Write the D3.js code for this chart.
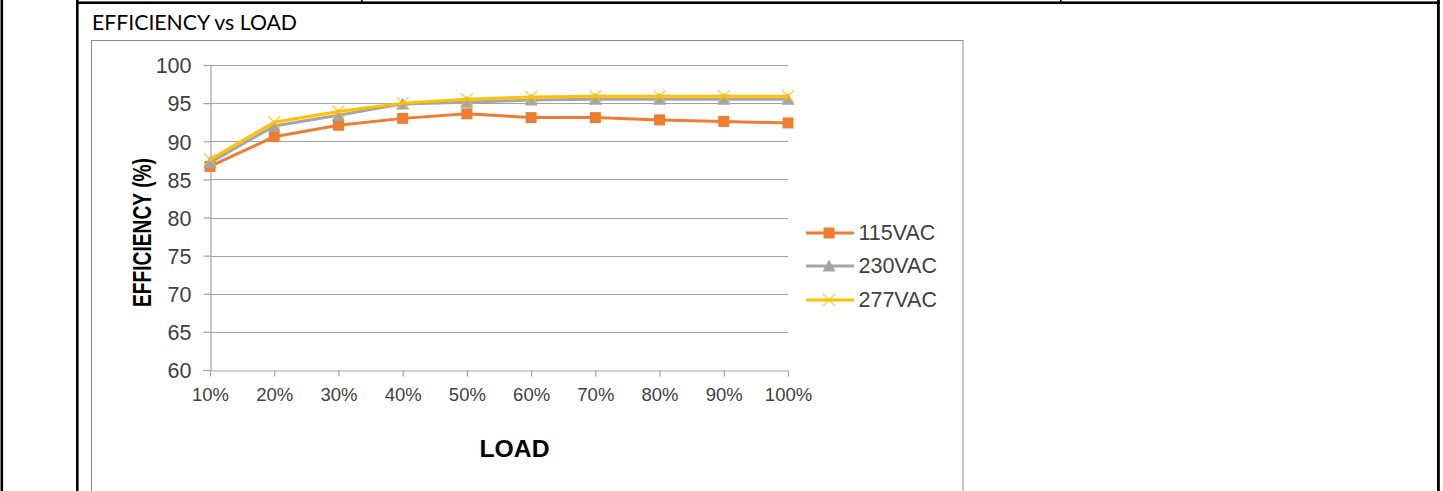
<!DOCTYPE html>
<html>
<head>
<meta charset="utf-8">
<script src="https://cdn.jsdelivr.net/npm/d3@7/dist/d3.min.js"></script>
<style>
  html, body { margin: 0; padding: 0; background: #fff; }
  svg { display: block; }
</style>
</head>
<body>
<svg id="chart" width="1443" height="491"></svg>
<script>
// Load levels along the x axis
const loads = ["10%", "20%", "30%", "40%", "50%", "60%", "70%", "80%", "90%", "100%"];

// Efficiency (%) per input voltage
const eff115 = [86.7, 90.6, 92.1, 93.0, 93.6, 93.1, 93.1, 92.8, 92.6, 92.4];
const eff230 = [87.2, 92.0, 93.4, 94.9, 95.1, 95.4, 95.5, 95.5, 95.5, 95.5];
const eff277 = [87.6, 92.5, 93.9, 95.0, 95.5, 95.8, 95.9, 95.9, 95.9, 95.9];

const seriesNames = ["115VAC", "230VAC", "277VAC"];
const yTicks = [60, 65, 70, 75, 80, 85, 90, 95, 100];

const series = [
  { name: seriesNames[0], values: eff115, color: "#ED7D31", marker: "square" },
  { name: seriesNames[1], values: eff230, color: "#A5A5A5", marker: "triangle" },
  { name: seriesNames[2], values: eff277, color: "#FFC000", marker: "cross" }
];

const svg = d3.select("#chart");
svg.append("rect").attr("width", 1443).attr("height", 491).attr("fill", "#fff");

// Surrounding table cell borders
const border = svg.append("g").attr("fill", "#000");
border.append("rect").attr("x", 0.5).attr("y", 0).attr("width", 2.6).attr("height", 491);
border.append("rect").attr("x", 76).attr("y", 0).attr("width", 2.6).attr("height", 491);
border.append("rect").attr("x", 1437).attr("y", 0).attr("width", 2.8).attr("height", 491);
border.append("rect").attr("x", 76).attr("y", 1.4).attr("width", 1364).attr("height", 2.6);
border.append("rect").attr("x", 361).attr("y", 0).attr("width", 1.6).attr("height", 2);
border.append("rect").attr("x", 1060).attr("y", 0).attr("width", 1.6).attr("height", 2);

// Cell heading
svg.append("text")
  .attr("x", 92).attr("y", 29.5)
  .attr("font-family", "Lato, 'Open Sans', sans-serif")
  .attr("font-size", 21)
  .attr("fill", "#000")
  .attr("textLength", 205)
  .attr("lengthAdjust", "spacingAndGlyphs")
  .text("EFFICIENCY vs LOAD");

// Chart frame
svg.append("rect")
  .attr("x", 91.5).attr("y", 40.5)
  .attr("width", 871.5).attr("height", 470)
  .attr("fill", "none").attr("stroke", "#8c8c8c").attr("stroke-width", 1);

const plotLeft = 210, plotRight = 788, plotTop = 65, plotBottom = 370;

const x = d3.scalePoint().domain(loads).range([plotLeft, plotRight]);
const y = d3.scaleLinear().domain([60, 100]).range([plotBottom, plotTop]);

const tickFont = "'Liberation Sans', Arial, sans-serif";

// Horizontal gridlines
svg.append("g")
  .selectAll("line")
  .data(yTicks.filter(t => t !== 60))
  .join("line")
  .attr("x1", plotLeft).attr("x2", plotRight)
  .attr("y1", d => Math.round(y(d)) + 0.5).attr("y2", d => Math.round(y(d)) + 0.5)
  .attr("stroke", "#a3a3a3").attr("stroke-width", 1.2);

// Y axis
const yAxis = svg.append("g")
  .attr("transform", `translate(${plotLeft + 0.5},0)`)
  .call(d3.axisLeft(y).tickValues(yTicks).tickSize(7).tickPadding(12).tickFormat(d3.format("d")));
yAxis.select(".domain").attr("stroke", "#a3a3a3").attr("stroke-width", 1.2);
yAxis.selectAll(".tick line").attr("stroke", "#a3a3a3").attr("stroke-width", 1.2);
yAxis.selectAll(".tick text")
  .attr("font-family", tickFont).attr("font-size", 21.5).attr("fill", "#404040")
  .attr("dy", "0.36em");

// X axis
const xAxis = svg.append("g")
  .attr("transform", `translate(0,${plotBottom + 0.5})`)
  .call(d3.axisBottom(x).tickSize(6).tickSizeOuter(0));
xAxis.select(".domain").attr("stroke", "#a3a3a3").attr("stroke-width", 1.2);
xAxis.selectAll(".tick line").attr("stroke", "#a3a3a3").attr("stroke-width", 1.2);
xAxis.selectAll(".tick text")
  .attr("font-family", tickFont).attr("font-size", 18.5).attr("fill", "#404040")
  .attr("y", 30).attr("dy", 0);

// Axis titles
svg.append("text")
  .attr("transform", `translate(150.5,232.5) rotate(-90)`)
  .attr("text-anchor", "middle")
  .attr("font-family", "'Liberation Sans', Arial, sans-serif")
  .attr("font-weight", "bold")
  .attr("font-size", 25)
  .attr("fill", "#000")
  .attr("textLength", 149)
  .attr("lengthAdjust", "spacingAndGlyphs")
  .text("EFFICIENCY (%)");

svg.append("text")
  .attr("x", 514.5).attr("y", 456.7)
  .attr("text-anchor", "middle")
  .attr("font-family", "'Liberation Sans', Arial, sans-serif")
  .attr("font-weight", "bold")
  .attr("font-size", 24.7)
  .attr("fill", "#000")
  .text("LOAD");

// Marker drawing helper
function drawMarker(g, type, color, cx, cy) {
  if (type === "square") {
    g.append("rect")
      .attr("x", cx - 5.5).attr("y", cy - 5.5).attr("width", 11).attr("height", 11)
      .attr("fill", color);
  } else if (type === "triangle") {
    g.append("path")
      .attr("d", `M${cx},${cy - 6.5} L${cx + 6.5},${cy + 5.5} L${cx - 6.5},${cy + 5.5} Z`)
      .attr("fill", color);
  } else {
    g.append("path")
      .attr("d", `M${cx - 6},${cy - 6} L${cx + 6},${cy + 6} M${cx + 6},${cy - 6} L${cx - 6},${cy + 6}`)
      .attr("stroke", color).attr("stroke-width", 1.4).attr("fill", "none").attr("opacity", 0.75);
  }
}

const line = d3.line().x((d, i) => x(loads[i])).y(d => y(d));

series.forEach(s => {
  const g = svg.append("g");
  g.append("path")
    .attr("d", line(s.values))
    .attr("fill", "none").attr("stroke", s.color).attr("stroke-width", 3)
    .attr("stroke-linejoin", "round");
  s.values.forEach((v, i) => drawMarker(g, s.marker, s.color, x(loads[i]), y(v)));
});

// Legend
const legend = svg.append("g");
const legendRows = [233, 266, 300];
series.forEach((s, i) => {
  const ly = legendRows[i];
  const g = legend.append("g");
  g.append("line")
    .attr("x1", 806).attr("x2", 854).attr("y1", ly).attr("y2", ly)
    .attr("stroke", s.color).attr("stroke-width", 3);
  drawMarker(g, s.marker, s.color, 829, ly);
  g.append("text")
    .attr("x", 858.5).attr("y", ly + 7.3)
    .attr("font-family", tickFont).attr("font-size", 21.5).attr("fill", "#404040")
    .text(s.name);
});
</script>
</body>
</html>
